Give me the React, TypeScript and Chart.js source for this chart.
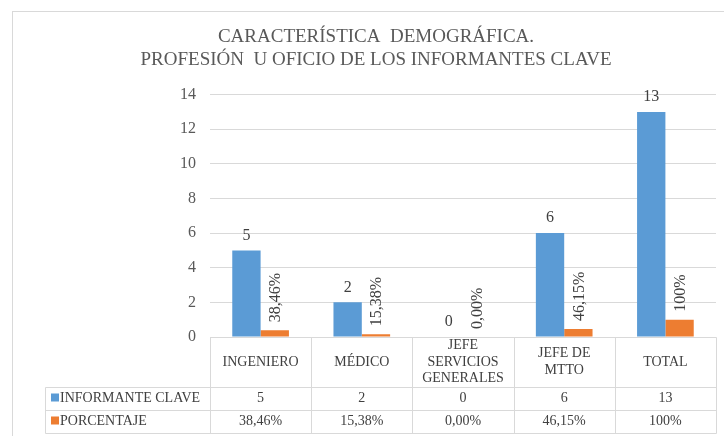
import React, { useEffect, useRef } from "react";
import { Chart, registerables } from "chart.js";

Chart.register(...registerables);

const titleLines = ["CARACTERÍSTICA  DEMOGRÁFICA.", "PROFESIÓN  U OFICIO DE LOS INFORMANTES CLAVE"];
const categories: string[][] = [
  ["INGENIERO"],
  ["MÉDICO"],
  ["JEFE", "SERVICIOS", "GENERALES"],
  ["JEFE DE", "MTTO"],
  ["TOTAL"],
];
const seriesNames = ["INFORMANTE CLAVE", "PORCENTAJE"];
const informantes = [5, 2, 0, 6, 13];
const porcentaje = [0.3846, 0.1538, 0, 0.4615, 1];
const informantesLabels = ["5", "2", "0", "6", "13"];
const porcentajeLabels = ["38,46%", "15,38%", "0,00%", "46,15%", "100%"];
const colors = ["#5b9bd5", "#ed7d31"];

const FONT = "'Liberation Serif', 'Times New Roman', serif";

const framePlugin = {
  id: "frame",
  beforeDraw(chart: any) {
    const ctx = chart.ctx;
    ctx.save();
    ctx.fillStyle = "#ffffff";
    ctx.fillRect(0, 0, chart.width, chart.height);
    ctx.strokeStyle = "#d9d9d9";
    ctx.lineWidth = 1;
    ctx.strokeRect(12.5, 11.5, 900, 900);
    ctx.restore();
  },
};

const labelsPlugin = {
  id: "barLabels",
  afterDatasetsDraw(chart: any) {
    const ctx = chart.ctx;
    ctx.save();
    ctx.fillStyle = "#404040";
    ctx.font = `16px ${FONT}`;
    const m0 = chart.getDatasetMeta(0);
    m0.data.forEach((el: any, i: number) => {
      ctx.textAlign = "center";
      ctx.textBaseline = "middle";
      ctx.fillText(informantesLabels[i], el.x, el.y - 15);
    });
    const m1 = chart.getDatasetMeta(1);
    m1.data.forEach((el: any, i: number) => {
      ctx.save();
      ctx.translate(el.x + 1, el.y - 8);
      ctx.rotate(-Math.PI / 2);
      ctx.textAlign = "left";
      ctx.textBaseline = "middle";
      ctx.fillText(porcentajeLabels[i], 0, 0);
      ctx.restore();
    });
    ctx.restore();
  },
};

const tablePlugin = {
  id: "dataTable",
  afterDraw(chart: any) {
    const ctx = chart.ctx;
    const xs = chart.scales.x;
    const area = chart.chartArea;
    const n = categories.length;
    const half = (xs.getPixelForValue(1) - xs.getPixelForValue(0)) / 2;
    const top = area.bottom;
    const r1 = top + 50;
    const r2 = r1 + 23;
    const r3 = r2 + 23;
    const leftCol = 45;
    const snap = (v: number) => Math.round(v) + 0.5;
    ctx.save();
    ctx.strokeStyle = "#d9d9d9";
    ctx.lineWidth = 1;
    ctx.beginPath();
    // horizontal lines
    ctx.moveTo(snap(area.left), snap(top));
    ctx.lineTo(snap(area.right), snap(top));
    [r1, r2, r3].forEach((y) => {
      ctx.moveTo(snap(leftCol), snap(y));
      ctx.lineTo(snap(area.right), snap(y));
    });
    // vertical lines
    for (let i = 0; i <= n; i++) {
      const x = i < n ? xs.getPixelForValue(i) - half : xs.getPixelForValue(n - 1) + half;
      ctx.moveTo(snap(x), snap(top));
      ctx.lineTo(snap(x), snap(r3));
    }
    ctx.moveTo(snap(leftCol), snap(r1));
    ctx.lineTo(snap(leftCol), snap(r3));
    ctx.stroke();

    ctx.fillStyle = "#404040";
    ctx.textAlign = "center";
    ctx.textBaseline = "middle";
    ctx.font = `14px ${FONT}`;
    const lh = 16.5;
    categories.forEach((lines, i) => {
      const cx = xs.getPixelForValue(i);
      const cy = (top + r1) / 2;
      const start = cy - ((lines.length - 1) * lh) / 2;
      lines.forEach((t, k) => ctx.fillText(t, cx, start + k * lh));
    });
    const rows = [informantesLabels, porcentajeLabels];
    const rowCenters = [(r1 + r2) / 2, (r2 + r3) / 2];
    rows.forEach((row, ri) => {
      row.forEach((t, i) => {
        ctx.fillText(t, xs.getPixelForValue(i), rowCenters[ri]);
      });
      ctx.fillStyle = colors[ri];
      ctx.fillRect(leftCol + 6, rowCenters[ri] - 5, 8, 8);
      ctx.fillStyle = "#404040";
      ctx.textAlign = "left";
      ctx.fillText(seriesNames[ri], leftCol + 15, rowCenters[ri]);
      ctx.textAlign = "center";
    });
    ctx.restore();
  },
};

export default function App() {
  const ref = useRef<HTMLCanvasElement | null>(null);
  useEffect(() => {
    if (!ref.current) return;
    const chart = new Chart(ref.current, {
      type: "bar",
      data: {
        labels: categories.map((c) => c.join(" ")),
        datasets: [
          {
            label: seriesNames[0],
            data: informantes,
            backgroundColor: colors[0],
            categoryPercentage: 0.56,
            barPercentage: 1,
          },
          {
            label: seriesNames[1],
            data: porcentaje,
            backgroundColor: colors[1],
            categoryPercentage: 0.56,
            barPercentage: 1,
          },
        ],
      },
      options: {
        animation: false,
        responsive: false,
        maintainAspectRatio: false,
        layout: { padding: { left: 36, right: 8, top: 12, bottom: 99 } },
        plugins: {
          legend: { display: false },
          tooltip: { enabled: false },
          title: {
            display: true,
            text: titleLines,
            color: "#595959",
            font: { family: FONT, size: 19, weight: "normal" },
            padding: { top: 14, bottom: 23 },
          },
        },
        scales: {
          x: { display: false },
          y: {
            min: 0,
            max: 14,
            ticks: {
              stepSize: 2,
              color: "#595959",
              font: { family: FONT, size: 16 },
              padding: 14,
            },
            grid: { color: "#d9d9d9", drawTicks: false },
            border: { display: false },
            afterFit(scale: any) {
              scale.width = 174;
            },
          },
        },
      },
      plugins: [framePlugin, labelsPlugin, tablePlugin],
    });
    return () => chart.destroy();
  }, []);
  return (
    <div style={{ position: "absolute", left: 0, top: 0, width: 724, height: 436 }}>
      <canvas ref={ref} width={724} height={436} style={{ display: "block" }} />
    </div>
  );
}
